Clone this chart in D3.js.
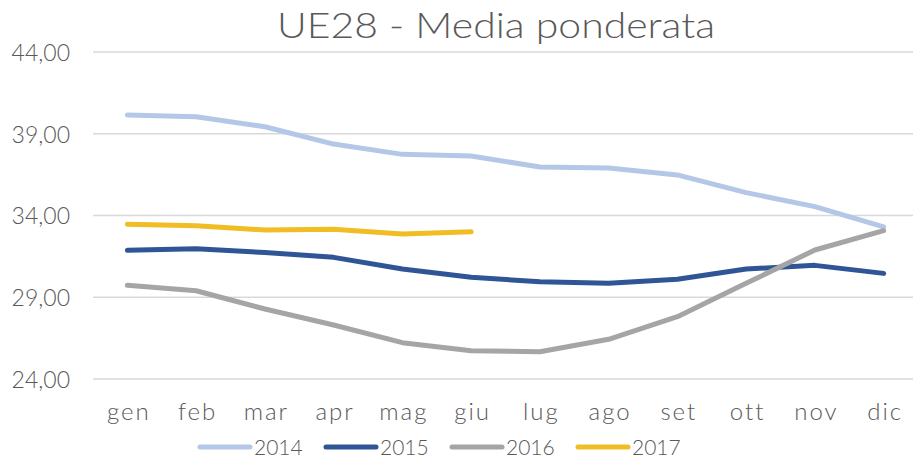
<!DOCTYPE html>
<html>
<head>
<meta charset="utf-8">
<script src="https://cdn.jsdelivr.net/npm/d3@7"></script>
<style>
  body { margin: 0; background: #fff; }
  svg text { font-family: Lato, "Open Sans", sans-serif; fill: #595959; font-weight: 300; }
</style>
</head>
<body>
<svg id="chart" width="913" height="459"></svg>
<script>
// months on the x axis
const months = ['gen', 'feb', 'mar', 'apr', 'mag', 'giu', 'lug', 'ago', 'set', 'ott', 'nov', 'dic'];
const yTicks = [24, 29, 34, 39, 44];

const v2014 = [40.15, 40.04, 39.43, 38.37, 37.74, 37.64, 36.97, 36.9, 36.48, 35.4, 34.54, 33.3];
const v2015 = [31.87, 31.97, 31.73, 31.44, 30.73, 30.22, 29.95, 29.85, 30.1, 30.73, 30.95, 30.46];
const v2016 = [29.73, 29.4, 28.28, 27.3, 26.22, 25.73, 25.67, 26.43, 27.81, 29.85, 31.89, 33.07];
const v2017 = [33.46, 33.38, 33.11, 33.16, 32.87, 33.0];

const seriesNames = ['2014', '2015', '2016', '2017'];
const seriesColors = ['#b4c7e7', '#2f5597', '#a5a5a5', '#f0bd25'];

const series = [v2014, v2015, v2016, v2017].map((vals, i) => ({
    name: seriesNames[i],
    color: seriesColors[i],
    values: vals
}));

const svg = d3.select('#chart');
const plotLeft = 93, plotRight = 918, plotTop = 52, plotBottom = 379;

const x = d3.scalePoint()
    .domain(months)
    .range([plotLeft, plotRight])
    .padding(0.5);

const y = d3.scaleLinear()
    .domain([24, 44])
    .range([plotBottom, plotTop]);

// gridlines
svg.append('g')
    .selectAll('line')
    .data(yTicks)
    .join('line')
    .attr('x1', plotLeft)
    .attr('x2', 913)
    .attr('y1', d => y(d))
    .attr('y2', d => y(d))
    .style('stroke', '#d9d9d9')
    .style('stroke-width', 1.3);

// y axis labels
const yAxis = d3.axisLeft(y)
    .tickValues(yTicks)
    .tickSize(0)
    .tickPadding(0)
    .tickFormat(d => d3.format('.2f')(d).replace('.', ','));
svg.append('g')
    .attr('transform', 'translate(70,0)')
    .call(yAxis)
    .call(g => g.select('.domain').remove())
    .selectAll('text')
    .style('font-size', '23px')
    .attr('dy', '0.36em');

// x axis labels
const xAxis = d3.axisBottom(x).tickSize(0).tickPadding(0);
svg.append('g')
    .attr('transform', 'translate(0,405)')
    .call(xAxis)
    .call(g => g.select('.domain').remove())
    .selectAll('text')
    .style('font-size', '24px')
    .style('letter-spacing', '2px')
    .attr('dx', '1px')
    .attr('dy', '0.62em');

// lines
const line = d3.line()
    .x((d, i) => x(months[i]))
    .y(d => y(d));

svg.append('g')
    .selectAll('path')
    .data(series)
    .join('path')
    .attr('d', d => line(d.values))
    .style('fill', 'none')
    .style('stroke', d => d.color)
    .style('stroke-width', 5)
    .style('stroke-linecap', 'round')
    .style('stroke-linejoin', 'round');

// title
svg.append('text')
    .attr('x', 277)
    .attr('y', 38)
    .attr('textLength', 438)
    .attr('lengthAdjust', 'spacingAndGlyphs')
    .style('font-size', '35px')
    .text('UE28 - Media ponderata');

// legend
const legendX = [200, 326, 452, 578];
const legend = svg.append('g')
    .selectAll('g')
    .data(series)
    .join('g')
    .attr('transform', (d, i) => `translate(${legendX[i]},447)`);
legend.append('line')
    .attr('x1', 0)
    .attr('x2', 50)
    .style('stroke', d => d.color)
    .style('stroke-width', 5)
    .style('stroke-linecap', 'round');
legend.append('text')
    .attr('x', 54)
    .attr('dy', '0.36em')
    .style('font-size', '21px')
    .text(d => d.name);
</script>
</body>
</html>
